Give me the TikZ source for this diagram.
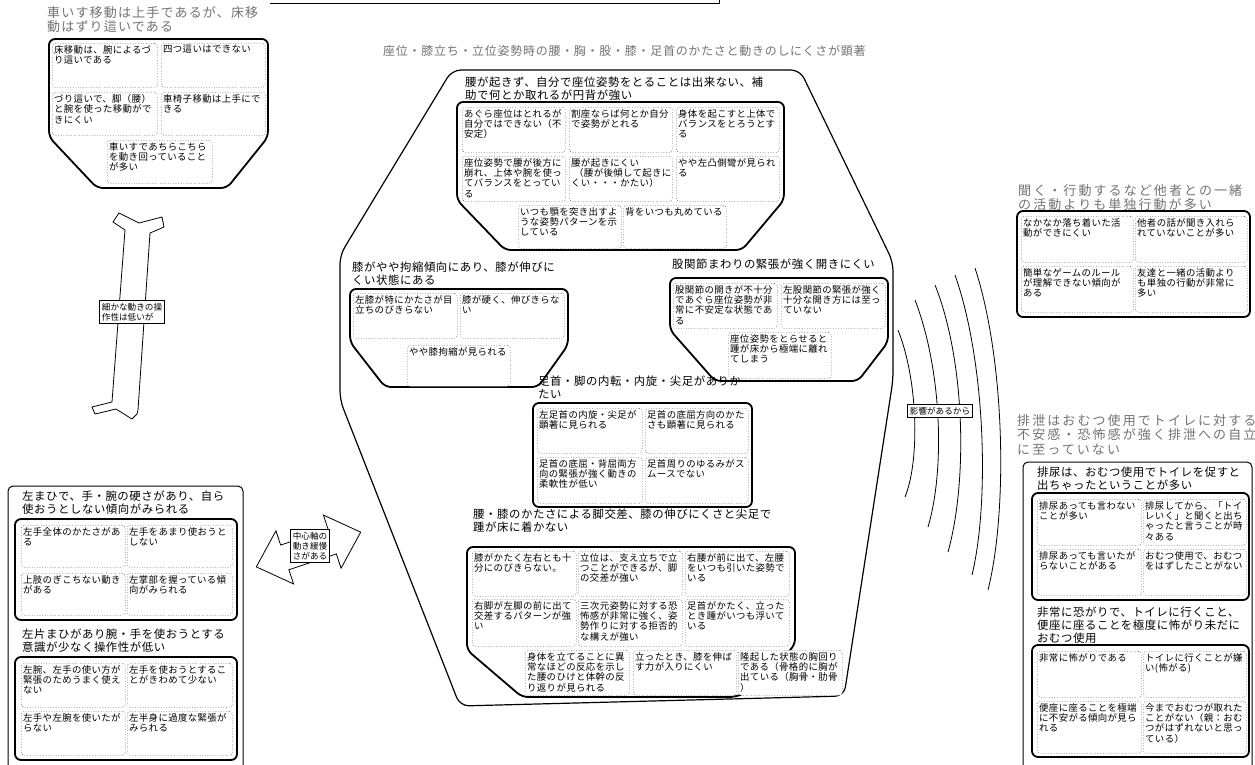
\documentclass[tikz,border=0pt]{standalone}
\usepackage{fontspec}
\setmainfont{Noto Sans CJK JP}
\newfontfamily\cellf[LetterSpace=4]{Noto Sans CJK JP}
\newfontfamily\hdrf[LetterSpace=5]{Noto Sans CJK JP}
\newfontfamily\gAf[LetterSpace=9]{Noto Sans CJK JP}
\newfontfamily\gBf[LetterSpace=16]{Noto Sans CJK JP}
\newfontfamily\gCf[LetterSpace=6]{Noto Sans CJK JP}
\newfontfamily\lblf{Noto Sans CJK JP}
\usetikzlibrary{calc}
\newcommand\cel[6][44]{%
  \node[cellbox, minimum width=#5, minimum height=#1] (#2) at (#3,#4) {};
  \node[celltxt] (#2t) at (#2.north west) {#6};}
\begin{document}
\begin{tikzpicture}[x=1pt,y=-1pt,
  cellbox/.style={draw=black!65, dotted, line width=0.6pt, rounded corners=3pt, fill=white, anchor=north west, inner sep=0pt},
  celltxt/.style={anchor=north west, align=left, font=\cellf\fontsize{9.4}{10.4}\selectfont, inner sep=2pt},
  grp/.style={draw, line width=1.8pt, rounded corners=6pt},
  hdr/.style={anchor=north west, align=left, font=\hdrf\fontsize{11.4}{13}\selectfont, inner sep=0pt},
  ghdrA/.style={anchor=north west, align=left, text=black!55, font=\gAf\fontsize{13}{14.5}\selectfont, inner sep=0pt},
  ghdrB/.style={anchor=north west, align=left, text=black!55, font=\gBf\fontsize{13}{14.5}\selectfont, inner sep=0pt},
  ghdrC/.style={anchor=north west, align=left, text=black!55, font=\gCf\fontsize{12}{14}\selectfont, inner sep=0pt},
  outl/.style={draw, line width=1.2pt, rounded corners=9pt},
  thinbox/.style={draw, line width=1pt, rounded corners=5pt},
  lbl/.style={draw, fill=white, line width=0.7pt, align=left, font=\lblf\fontsize{8.6}{10}\selectfont, inner sep=2.5pt},
  arrowshape/.style={draw, line width=0.8pt, fill=white, line join=miter},
  arcline/.style={draw, line width=0.8pt}]
\useasboundingbox (0,0) rectangle (1255,764);

% top bar (cut-off box)
\draw[line width=1pt] (270,3) -- (719,3) -- (719,-2);

% ===== top-left =====
\node[ghdrA] (tlh) at (47,6) {車いす移動は上手であるが、床移\\動はずり這いである};
\draw[grp] (49,39) -- (268,39) -- (268,137) -- (227,188) -- (97,188) -- (49,137) -- cycle;
\cel{tl1}{52}{43}{105}{床移動は、腕によるづ\\り這いである}
\cel{tl2}{161}{43}{104}{四つ這いはできない}
\cel[43]{tl3}{52}{92}{105}{づり這いで、脚（腰）\\と腕を使った移動がで\\きにくい}
\cel[43]{tl4}{161}{92}{104}{車椅子移動は上手にで\\きる}
\cel[43]{tl5}{107}{140}{105}{車いすであちらこちら\\を動き回っていること\\が多い}

% ===== vertical Y arrow =====
\draw[arrowshape] (125,230) -- (113,222) -- (119,213) -- (139,223) -- (162,217) -- (164,227) -- (150,233)
  -- (138,410) -- (137,414) -- (132,419) -- (116,409) -- (95,414) -- (92,407) -- (112,402) -- cycle;
\node[lbl] (lb1) at (132,312) {細かな動きの操\\作性は低いが};

% ===== horizontal double arrow =====
\begin{scope}[shift={(308.5,549.5)}, rotate=18.4]
\draw[arrowshape] (-55,0) -- (-25,-28) -- (-25,-13) -- (25,-13) -- (25,-28) -- (55,0) -- (25,28) -- (25,13) -- (-25,13) -- (-25,28) -- cycle;
\end{scope}
\node[lbl] (lb2) at (310,546) {中心軸の\\動き緩慢\\さがある};

% ===== left bottom =====
\draw[thinbox] (8,775) -- (8,486) -- (243,486) -- (243,775);
\node[hdr] (lh1) at (22,491) {左まひで、手・腕の硬さがあり、自ら\\使おうとしない傾向がみられる};
\draw[grp] (15,519) rectangle (237,620);
\cel[42]{l1}{21}{525}{104}{左手全体のかたさがあ\\る}
\cel[42]{l2}{127}{525}{105}{左手をあまり使おうと\\しない}
\cel[42]{l3}{21}{573}{104}{上肢のぎこちない動き\\がある}
\cel[42]{l4}{127}{573}{105}{左掌部を握っている傾\\向がみられる}
\node[hdr] (lh2) at (22,629) {左片まひがあり腕・手を使おうとする\\意識が少なく操作性が低い};
\draw[grp] (15,657) rectangle (237,760);
\cel{l5}{21}{663}{104}{左腕、左手の使い方が\\緊張のためうまく使え\\ない}
\cel{l6}{127}{663}{105}{左手を使おうとするこ\\とがきわめて少ない}
\cel{l7}{21}{711}{104}{左手や左腕を使いたが\\らない}
\cel{l8}{127}{711}{105}{左半身に過度な緊張が\\みられる}

% ===== center =====
\node[ghdrC] (ch) at (383,45) {座位・膝立ち・立位姿勢時の腰・胸・股・膝・足首のかたさと動きのしにくさが顕著};
\draw[outl] (452,70) -- (800,70) -- (893,262) -- (893,380) -- (844,696) -- (460,706) -- (340,400) -- (340,255) -- cycle;

% group 1
\node[hdr] (g1h) at (465,77) {腰が起きず、自分で座位姿勢をとることは出来ない、補\\助で何とか取れるが円背が強い};
\draw[grp] (457,102) -- (784,102) -- (784,200) -- (742,250) -- (505,250) -- (457,200) -- cycle;
\cel[45]{a1}{462}{107}{103}{あぐら座位はとれるが\\自分ではできない（不\\安定）}
\cel[45]{a2}{569}{107}{103}{割座ならば何とか自分\\で姿勢がとれる}
\cel[45]{a3}{676}{107}{103}{身体を起こすと上体で\\バランスをとろうとす\\る}
\cel[45]{a4}{462}{156}{103}{座位姿勢で腰が後方に\\崩れ、上体や腕を使っ\\てバランスをとってい\\る}
\cel[45]{a5}{569}{156}{103}{腰が起きにくい\\\hspace{3pt}（腰が後傾して起きに\\くい・・・かたい）}
\cel[45]{a6}{676}{156}{103}{やや左凸側彎が見られ\\る}
\cel[43]{a7}{518}{205}{103}{いつも顎を突き出すよ\\うな姿勢パターンを示\\している}
\cel[43]{a8}{623}{205}{103}{背をいつも丸めている}

% group 2 (knee)
\node[hdr] (g2h) at (352,262) {膝がやや拘縮傾向にあり、膝が伸びに\\くい状態にある};
\draw[grp] (350,289) -- (568,289) -- (568,345) -- (538,387) -- (385,387) -- (350,342) -- cycle;
\cel[45]{b1}{353}{293}{104}{左膝が特にかたさが目\\立ちのびきらない}
\cel[45]{b2}{460}{293}{104}{膝が硬く、伸びきらな\\い}
\cel[41]{b3}{407}{345}{103}{やや膝拘縮が見られる}

% group 3 (hip)
\node[hdr] (g3h) at (672,259) {股関節まわりの緊張が強く開きにくい};
\draw[grp] (670,278) -- (888,278) -- (888,342) -- (858,381) -- (715,381) -- (670,330) -- cycle;
\cel[45]{h1}{673}{283}{104}{股関節の開きが不十分\\であぐら座位姿勢が非\\常に不安定な状態であ\\る}
\cel[45]{h2}{781}{283}{104}{左股関節の緊張が強く\\十分な開き方には至っ\\ていない}
\cel[46]{h3}{728}{332}{103}{座位姿勢をとらせると\\踵が床から極端に離れ\\てしまう}

% group 4 (ankle)
\node[hdr] (g4h) at (538,376) {足首・脚の内転・内旋・尖足がありか\\たい};
\draw[grp] (533,403) rectangle (752,507);
\cel[45]{f1}{537}{408}{105}{左足首の内旋・尖足が\\顕著に見られる}
\cel[45]{f2}{645}{408}{103}{足首の底屈方向のかた\\さも顕著に見られる}
\cel[46]{f3}{537}{457}{105}{足首の底屈・背屈両方\\向の緊張が強く動きの\\柔軟性が低い}
\cel[46]{f4}{645}{457}{103}{足首周りのゆるみがス\\ムースでない}

% group 5 (waist/knee)
\node[hdr] (g5h) at (473,509) {腰・膝のかたさによる脚交差、膝の伸びにくさと尖足で\\踵が床に着かない};
\draw[grp] (467,547) -- (795,547) -- (795,645) -- (748,692) -- (735,697) -- (522,697) -- (467,650) -- cycle;
\cel[45]{k1}{472}{551}{104}{膝がかたく左右とも十\\分にのびきらない。}
\cel[45]{k2}{578}{551}{104}{立位は、支え立ちで立\\つことができるが、脚\\の交差が強い}
\cel[45]{k3}{685}{551}{104}{右腰が前に出て、左腰\\をいつも引いた姿勢で\\いる}
\cel[47]{k4}{472}{599}{104}{右脚が左脚の前に出て\\交差するパターンが強\\い}
\cel[47]{k5}{578}{599}{104}{三次元姿勢に対する恐\\怖感が非常に強く、姿\\勢作りに対する拒否的\\な構えが強い}
\cel[47]{k6}{685}{599}{104}{足首がかたく、立った\\とき踵がいつも浮いて\\いる}
\cel[45]{k7}{525}{650}{104}{身体を立てることに異\\常なほどの反応を示し\\た腰のひけと体幹の反\\り返りが見られる}
\cel[45]{k8}{633}{650}{103}{立ったとき、膝を伸ば\\す力が入りにくい}
\cel[45]{k9}{738}{650}{104}{隆起した状態の胸回り\\である（骨格的に胸が\\出ている（胸骨・肋骨\\）}

% ===== arcs =====
\draw[arcline] (898,330) .. controls (918,380) and (920,460) .. (905,497);
\draw[arcline] (915,300) .. controls (942,370) and (945,470) .. (928,527);
\draw[arcline] (935,285) .. controls (965,360) and (968,480) .. (948,552);
\draw[arcline] (955,275) .. controls (985,360) and (990,500) .. (972,575);
\draw[arcline] (975,268) .. controls (1005,360) and (1008,510) .. (988,590);
\node[lbl] (lb3) at (940,411) {影響があるから};

% ===== right top =====
\node[ghdrB] (rth) at (1018,184) {聞く・行動するなど他者との一緒\\の活動よりも単独行動が多い};
\draw[grp] (1017,211) rectangle (1250,317);
\cel[46]{r1}{1021}{216}{112}{なかなか落ち着いた活\\動ができにくい}
\cel[46]{r2}{1135}{216}{112}{他者の話が聞き入れら\\れていないことが多い}
\cel[46]{r3}{1021}{266}{112}{簡単なゲームのルール\\が理解できない傾向が\\ある}
\cel[46]{r4}{1135}{266}{112}{友達と一緒の活動より\\も単独の行動が非常に\\多い}

% ===== right bottom =====
\node[ghdrB] (rbh) at (1017,414) {排泄はおむつ使用でトイレに対する\\不安感・恐怖感が強く排泄への自立\\に至っていない};
\draw[thinbox] (1023,775) -- (1023,462) -- (1252,462) -- (1252,775);
\node[hdr] (rbh2) at (1037,467) {排尿は、おむつ使用でトイレを促すと\\出ちゃったということが多い};
\draw[grp] (1032,493) rectangle (1249,600);
\cel[46]{s1}{1037}{499}{104}{排尿あっても言わない\\ことが多い}
\cel[46]{s2}{1143}{499}{103}{排尿してから、「トイ\\レいく」と聞くと出ち\\ゃったと言うことが時\\々ある}
\cel[46]{s3}{1037}{549}{104}{排尿あっても言いたが\\らないことがある}
\cel[46]{s4}{1143}{549}{103}{おむつ使用で、おむつ\\をはずしたことがない}
\node[hdr] (rbh3) at (1037,607) {非常に恐がりで、トイレに行くこと、\\便座に座ることを極度に怖がり未だに\\おむつ使用};
\draw[grp] (1032,645) rectangle (1249,757);
\cel[46]{s5}{1037}{651}{104}{非常に怖がりである}
\cel[46]{s6}{1143}{651}{103}{トイレに行くことが嫌\\い(怖がる)}
\cel[52]{s7}{1037}{701}{104}{便座に座ることを極端\\に不安がる傾向が見ら\\れる}
\cel[52]{s8}{1143}{701}{103}{今までおむつが取れた\\ことがない（親：おむ\\つがはずれないと思っ\\ている）}
\end{tikzpicture}
\end{document}
